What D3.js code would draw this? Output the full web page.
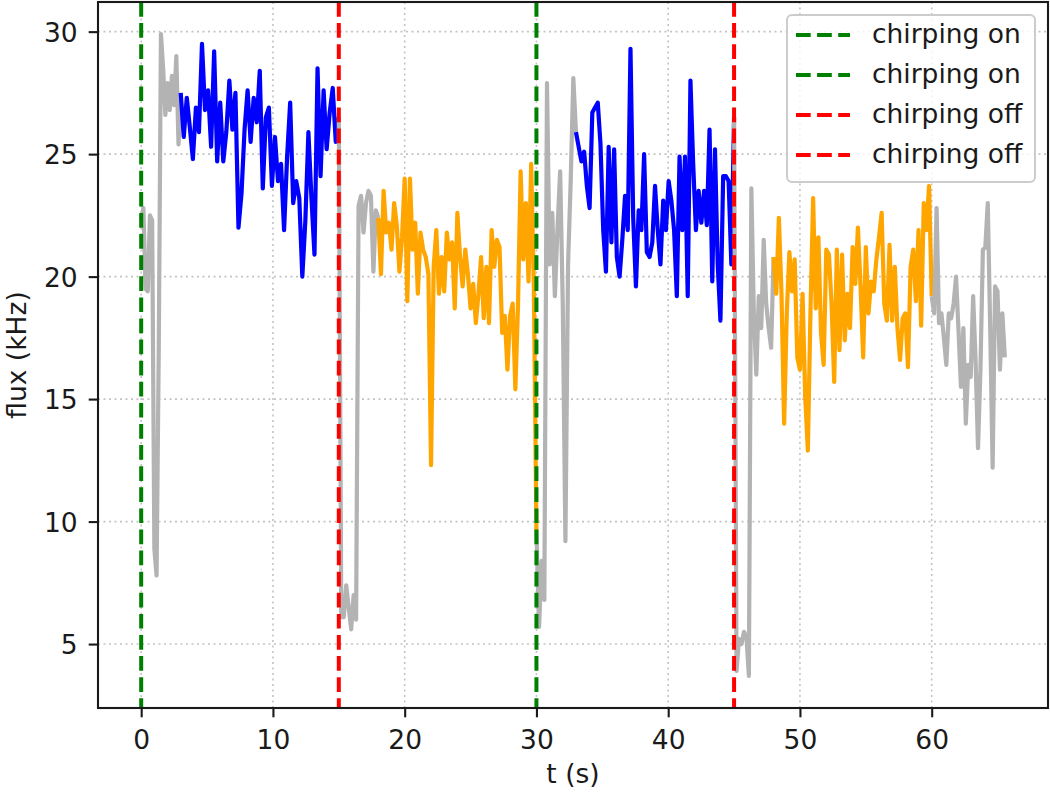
<!DOCTYPE html>
<html lang="en">
<head>
    <meta charset="UTF-8">
    <title>Flux with chirping on / off</title>
    <script src="https://d3js.org/d3.v7.min.js"></script>
</head>

<style>
    body {
        margin: 0;
        padding: 0;
        background: #fff;
    }

    svg {
        display: block;
        font-family: "DejaVu Sans", sans-serif;
    }
</style>

<body>
<div class="chart-container"></div>

<script>
  var grayRise1 = [22.3, 22.8, 19.5, 19.4, 22.5, 22.3, 8.9, 7.8, 17.0, 29.9, 28.5, 26.6, 27.9, 26.8, 28.2, 27.0, 29.0, 25.4, 27.5];
  var chirpOn1 = [27.5, 25.7, 27.3, 26.1, 24.8, 26.9, 25.9, 29.5, 26.8, 27.6, 25.3, 29.2, 24.7, 27.1, 24.7, 25.9, 28.0, 26.0, 27.5, 22.0,
    23.4, 26.0, 27.6, 25.5, 27.3, 26.3, 28.4, 23.6, 26.5, 26.9, 23.7, 25.7, 23.9, 24.6, 21.9, 24.9, 27.1, 23.0, 23.9, 23.2,
    20.0, 22.3, 25.9, 23.2, 20.9, 28.5, 24.1, 27.6, 25.2, 26.7, 27.7, 25.5, 26.5];
  var grayDrop1 = [26.5, 6.1, 6.1, 7.4, 6.5, 5.6, 7.0, 6.0, 22.9, 23.3, 21.8, 23.0, 23.5, 23.3, 20.2, 22.7, 22.4];
  var chirpOff1 = [22.4, 20.1, 23.5, 21.8, 22.2, 21.1, 23.0, 22.1, 20.2, 21.6, 24.0, 19.0, 24.0, 21.1, 22.2, 19.3, 21.8, 21.1, 20.8, 20.1,
    12.3, 20.4, 21.9, 19.3, 20.8, 19.4, 21.8, 20.7, 21.4, 18.7, 22.6, 20.8, 19.6, 21.1, 20.1, 18.7, 19.7, 18.1, 19.3, 20.8,
    18.3, 20.4, 18.1, 21.9, 20.4, 21.5, 21.2, 17.7, 18.4, 16.2, 18.4, 18.9, 15.4, 18.8, 24.3, 20.7, 23.0, 19.8, 24.6, 19.7, 9.6];
  var grayRise2 = [9.6, 5.7, 8.4, 6.8, 27.9, 20.5, 22.6, 19.2, 22.0, 24.3, 18.8, 9.2, 20.5, 23.9, 28.1, 25.9];
  var chirpOn2 = [25.9, 25.3, 24.7, 25.1, 23.7, 22.8, 26.7, 26.9, 27.1, 25.4, 21.9, 20.2, 25.3, 21.4, 25.2, 20.8, 20.0, 21.5, 23.3, 21.9,
    29.3, 22.4, 19.6, 22.7, 21.9, 25.0, 21.0, 20.8, 21.4, 23.7, 21.9, 20.5, 23.1, 21.9, 23.9, 23.1, 21.9, 19.2, 24.9, 21.9,
    24.9, 19.2, 28.0, 24.6, 21.9, 23.5, 22.2, 23.5, 22.1, 26.0, 19.8, 25.2, 20.5, 18.2, 24.1, 24.1, 23.9, 20.5, 26.5];
  var grayDrop2 = [26.5, 3.9, 5.2, 5.0, 5.5, 5.3, 3.7, 23.6, 18.5, 16.0, 19.2, 17.9, 21.5, 18.9, 17.9, 17.1, 20.8];
  var chirpOff2 = [20.8, 19.3, 22.4, 19.3, 14.0, 18.5, 21.0, 19.4, 20.7, 16.7, 16.2, 19.3, 15.1, 12.9, 18.6, 23.2, 18.7, 21.6, 17.7, 16.4,
    21.1, 20.9, 18.9, 15.7, 21.1, 17.0, 20.9, 17.4, 19.3, 17.9, 21.2, 19.7, 22.0, 19.6, 16.7, 21.2, 18.5, 19.8, 19.4, 20.7,
    21.6, 22.6, 18.9, 18.2, 21.3, 18.2, 20.4, 17.9, 16.6, 18.3, 18.5, 16.3, 20.4, 21.1, 19.0, 21.9, 18.0, 23.0, 21.9, 23.7, 19.2];
  var grayTail = [19.2, 18.5, 22.8, 18.1, 18.5, 17.5, 16.4, 18.5, 18.3, 18.9, 20.0, 17.8, 15.5, 17.9, 14.0, 16.4, 15.9, 19.2, 16.6, 13.0,
    16.2, 21.1, 21.2, 23.0, 17.9, 12.2, 19.6, 19.4, 16.2, 18.5, 16.7];

  /** phase windows (s) and what kind each one is */
  var phaseStarts = [0, 3, 15, 18, 30, 33, 45, 48, 60];
  var phaseEnds = [3, 15, 18, 30, 33, 45, 48, 60, 65.55];
  var phaseKinds = ['settle', 'on', 'settle', 'off', 'settle', 'on', 'settle', 'off', 'settle'];
  var phaseValues = [grayRise1, chirpOn1, grayDrop1, chirpOff1, grayRise2, chirpOn2, grayDrop2, chirpOff2, grayTail];

  var chirpOnTimes = [0, 30];
  var chirpOffTimes = [15, 45];
  var legendLabels = ['chirping on', 'chirping on', 'chirping off', 'chirping off'];

  var xTicks = [0, 10, 20, 30, 40, 50, 60];
  var yTicks = [5, 10, 15, 20, 25, 30];

  /** LAYOUT */
  var svgWidth = 1050;
  var svgHeight = 792;
  var plotLeft = 98;
  var plotTop = 2;
  var plotWidth = 950;
  var plotHeight = 706;
  var fontSize = 26.5;

  var kindColor = { settle: '#b3b3b3', on: 'blue', off: 'orange' };
  var textColor = '#1a1a1a';

  /** build segments: samples of each phase spread evenly over its window */
  var segments = phaseValues.map(function (values, i) {
    var t0 = phaseStarts[i], t1 = phaseEnds[i];
    var step = (t1 - t0) / (values.length - 1);
    return {
      kind: phaseKinds[i],
      points: values.map(function (v, j) { return { t: t0 + j * step, flux: v }; })
    };
  });

  var allPoints = d3.merge(segments.map(function (s) { return s.points; }));

  /** matplotlib style 5% margins */
  var tExtent = d3.extent(allPoints.map(function (p) { return p.t; }).concat(chirpOnTimes, chirpOffTimes));
  var fExtent = d3.extent(allPoints, function (p) { return p.flux; });
  var tPad = (tExtent[1] - tExtent[0]) * 0.05;
  var fPad = (fExtent[1] - fExtent[0]) * 0.05;

  var x = d3.scaleLinear()
    .domain([tExtent[0] - tPad, tExtent[1] + tPad])
    .range([0, plotWidth]);
  var y = d3.scaleLinear()
    .domain([fExtent[0] - fPad, fExtent[1] + fPad])
    .range([plotHeight, 0]);

  var svg_selection = d3.select('.chart-container')
    .append('svg')
    .attr('width', svgWidth)
    .attr('height', svgHeight);

  var plot = svg_selection.append('g')
    .attr('transform', 'translate(' + plotLeft + ',' + plotTop + ')');

  plot.append('clipPath').attr('id', 'plot-clip')
    .append('rect').attr('width', plotWidth).attr('height', plotHeight);

  /** grid (dotted) */
  var grid = plot.append('g').classed('grid', true)
    .attr('stroke', '#b0b0b0')
    .attr('stroke-width', 1.6)
    .attr('stroke-dasharray', '2,3.5')
    .attr('opacity', 0.75);
  grid.selectAll('.vgrid').data(xTicks).enter().append('line')
    .attr('x1', function (d) { return x(d); })
    .attr('x2', function (d) { return x(d); })
    .attr('y1', 0).attr('y2', plotHeight);
  grid.selectAll('.hgrid').data(yTicks).enter().append('line')
    .attr('y1', function (d) { return y(d); })
    .attr('y2', function (d) { return y(d); })
    .attr('x1', 0).attr('x2', plotWidth);

  /** flux lines, one per phase */
  var line = d3.line()
    .x(function (p) { return x(p.t); })
    .y(function (p) { return y(p.flux); });

  plot.append('g').attr('clip-path', 'url(#plot-clip)')
    .selectAll('path').data(segments).enter().append('path')
    .attr('d', function (s) { return line(s.points); })
    .attr('fill', 'none')
    .attr('stroke', function (s) { return kindColor[s.kind]; })
    .attr('stroke-width', 4.2)
    .attr('stroke-linejoin', 'round');

  /** chirping markers */
  var markers = chirpOnTimes.map(function (t) { return { t: t, color: 'green' }; })
    .concat(chirpOffTimes.map(function (t) { return { t: t, color: 'red' }; }));

  plot.append('g').selectAll('line').data(markers).enter().append('line')
    .attr('x1', function (d) { return x(d.t); })
    .attr('x2', function (d) { return x(d.t); })
    .attr('y1', 0).attr('y2', plotHeight)
    .attr('stroke', function (d) { return d.color; })
    .attr('stroke-width', 4)
    .attr('stroke-dasharray', '14.7,6.4');

  /** axes */
  var xAxis = plot.append('g')
    .attr('transform', 'translate(0,' + plotHeight + ')')
    .call(d3.axisBottom(x).tickValues(xTicks).tickSize(9.3).tickFormat(d3.format('d')));
  xAxis.selectAll('text').attr('y', 41).attr('dy', null);

  var yAxis = plot.append('g')
    .call(d3.axisLeft(y).tickValues(yTicks).tickSize(9.3).tickPadding(11).tickFormat(d3.format('d')));
  yAxis.selectAll('text').attr('dy', '0.36em');

  [xAxis, yAxis].forEach(function (ax) {
    ax.select('.domain').remove();
    ax.selectAll('line').attr('stroke', textColor).attr('stroke-width', 2.1);
    ax.selectAll('text')
      .attr('fill', textColor)
      .style('font-size', fontSize + 'px')
      .style('font-family', '"DejaVu Sans", sans-serif');
  });

  /** frame */
  plot.append('rect')
    .attr('width', plotWidth).attr('height', plotHeight)
    .attr('fill', 'none')
    .attr('stroke', textColor)
    .attr('stroke-width', 2.1);

  /** axis labels */
  svg_selection.append('text')
    .attr('x', plotLeft + plotWidth / 2)
    .attr('y', 783)
    .attr('text-anchor', 'middle')
    .attr('fill', textColor)
    .style('font-size', fontSize + 'px')
    .text('t (s)');

  svg_selection.append('text')
    .attr('transform', 'translate(26,' + (plotTop + plotHeight / 2) + ') rotate(-90)')
    .attr('text-anchor', 'middle')
    .attr('fill', textColor)
    .style('font-size', fontSize + 'px')
    .text('flux (kHz)');

  /** legend */
  var legendWidth = 248;
  var legendRowGap = 40;
  var legendLeft = plotWidth - 13 - legendWidth;
  var legendTopY = 13;
  var legendColors = ['green', 'green', 'red', 'red'];

  var legend = plot.append('g')
    .attr('transform', 'translate(' + legendLeft + ',' + legendTopY + ')');

  legend.append('rect')
    .attr('width', legendWidth)
    .attr('height', legendRowGap * legendLabels.length + 7)
    .attr('rx', 5)
    .attr('fill', 'white')
    .attr('fill-opacity', 0.8)
    .attr('stroke', '#cccccc')
    .attr('stroke-width', 2);

  var legendItem = legend.selectAll('.legend-item').data(legendLabels).enter().append('g')
    .attr('transform', function (_, i) { return 'translate(0,' + (20 + i * legendRowGap) + ')'; });

  legendItem.append('line')
    .attr('x1', 9).attr('x2', 63)
    .attr('stroke', function (_, i) { return legendColors[i]; })
    .attr('stroke-width', 4)
    .attr('stroke-dasharray', '14.7,6.4');

  legendItem.append('text')
    .attr('x', 85)
    .attr('y', 8)
    .attr('fill', textColor)
    .style('font-size', fontSize + 'px')
    .text(function (d) { return d; });
</script>
</body>
</html>
